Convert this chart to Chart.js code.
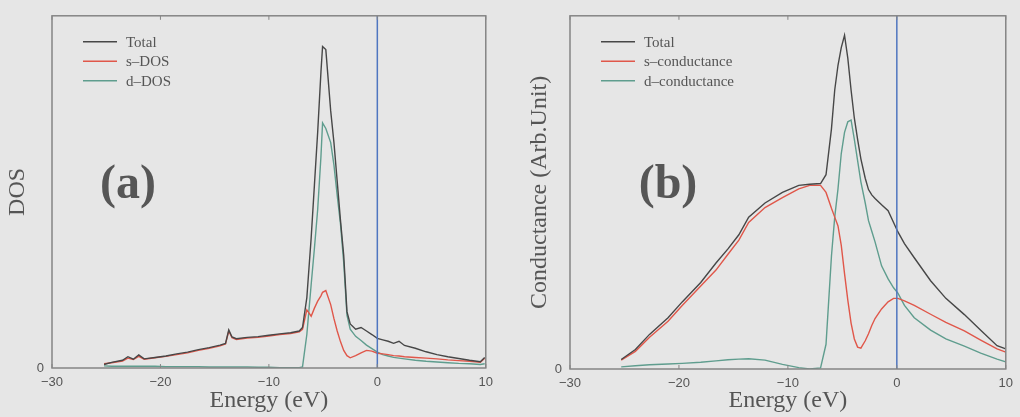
<!DOCTYPE html>
<html>
<head>
<meta charset="utf-8">
<script src="https://cdn.jsdelivr.net/npm/chart.js@4.4.1/dist/chart.umd.min.js"></script>
<style>
body{margin:0;background:#e6e6e6;}
.panel{position:absolute;top:0;height:417px;}
#wrapA{left:0;width:500px;}
#wrapB{left:500px;width:520px;}
</style>
</head>
<body>
<div class="panel" id="wrapA"><canvas id="cA"></canvas></div>
<div class="panel" id="wrapB"><canvas id="cB"></canvas></div>
<script>
// panel (a) - density of states, values in % of plot height
const energyA = [-25.2,-24.5,-23.5,-23.0,-22.5,-22.0,-21.5,-20.5,-19.5,-18.5,-17.5,-16.5,-15.5,-14.5,-14.0,-13.7,-13.4,-13.0,-12.0,-11.0,-10.0,-9.0,-8.0,-7.2,-6.9,-6.5,-6.1,-5.8,-5.5,-5.2,-5.05,-4.75,-4.3,-4.0,-3.7,-3.4,-3.1,-2.8,-2.5,-2.0,-1.5,-1.0,-0.5,0,0.5,1.0,1.5,2.0,2.5,3.5,4.5,5.5,6.5,7.5,8.5,9.5,9.9];
const totalA  = [1.0,1.6,2.2,3.2,2.5,3.7,2.6,3.0,3.4,4.0,4.5,5.2,5.8,6.5,7.0,10.8,8.8,8.3,8.7,8.9,9.3,9.7,10.0,10.5,11.5,20,37,52,67,84,91.3,90.4,73,64,53,42,32,16,12.5,11,11.5,10.5,9.5,8.4,8.0,7.6,7.0,7.6,6.4,5.6,4.6,3.8,3.2,2.7,2.2,1.8,3.0];
const sDosA   = [1.2,1.5,2.0,2.8,2.4,3.3,2.5,2.9,3.3,3.8,4.3,5.0,5.6,6.3,6.8,10.5,8.6,8.1,8.5,8.7,9.1,9.5,9.8,10.3,11.0,16.5,14.7,17,19,20.5,21.5,22,18,14,10.5,7.5,5,3.5,2.9,3.5,4.3,5.0,4.8,4.2,4.0,3.8,3.5,3.4,3.2,3.0,2.8,2.6,2.3,2.1,1.9,1.6,2.8];
const dDosA   = [0.6,0.5,0.5,0.5,0.5,0.5,0.5,0.5,0.4,0.4,0.4,0.4,0.3,0.3,0.3,0.3,0.3,0.3,0.3,0.2,0.2,0.1,0.1,0.1,0.3,9.5,23.7,34,45,60,69.6,68,64,57.6,49,41,30,15,11,9,7.8,6.5,5.5,4.5,3.8,3.4,3.0,2.8,2.6,2.2,1.9,1.7,1.5,1.3,1.2,1.0,1.2];

// panel (b) - conductance
const energyB = [-25.3,-24,-22.7,-21,-19.7,-18,-16.6,-15.5,-14.5,-13.6,-12.1,-10.5,-9.0,-8.0,-7.0,-6.5,-6.0,-5.7,-5.4,-5.1,-4.8,-4.5,-4.2,-3.9,-3.6,-3.3,-2.9,-2.6,-2.3,-2.0,-1.4,-0.8,-0.3,0.1,0.7,1.6,3.1,4.5,6.2,7.7,9.2,10];
const totalB  = [2.7,5.5,9.8,14.5,19,24.5,30,34,38,43,47,50,52,52.3,52.5,55,68,79,86,91,94.5,88,79,71,65,59.5,54,50.8,49.3,48.3,46.5,44.8,41.5,38.8,35.5,31.5,25,20,15.4,11,6.6,5.7];
const sCondB  = [2.5,5.0,9.0,13.5,18,23.5,28,32.5,36.5,41.5,45.7,48.5,51,52,52,50,45.5,43,40.5,35,27,19.5,13,8.5,6.2,5.9,8,10,12.3,14.3,17,19,20,20,19.3,18,15.5,13.2,10.8,8.2,5.7,4.8];
const dCondB  = [0.6,0.9,1.2,1.4,1.6,1.9,2.3,2.6,2.8,2.9,2.5,1.3,0.4,0,0.3,7,32,43,51,61,67,70,70.5,65,59,53,47,42,39,36,29.2,25.5,23,21.5,18,14.5,11,8.5,6.5,4.5,2.8,2.0];

const xTicks = [-30, -20, -10, 0, 10];
const yTicks = [0];
const fermiEnergy = 0;
const yMax = 100;

const labelsA = ['Total', 's\u2013DOS', 'd\u2013DOS'];
const labelsB = ['Total', 's\u2013conductance', 'd\u2013conductance'];
const colors = ['#474747', '#e0574a', '#5f9d8e'];
const ink = '#555';

function toPoints(xs, ys) {
    return xs.map((x, i) => ({x: x, y: ys[i]}));
}

// frame, inner ticks, legend and panel tag
const decorPlugin = {
    id: 'decor',
    afterDraw(chart, args, opts) {
        const ctx = chart.ctx, a = chart.chartArea, xs = chart.scales.x;
        ctx.save();
        ctx.strokeStyle = '#858585';
        ctx.lineWidth = 1.5;
        ctx.strokeRect(a.left, a.top, a.right - a.left, a.bottom - a.top);
        ctx.lineWidth = 1;
        for (let v of xTicks) {
            let px = xs.getPixelForValue(v);
            ctx.beginPath();
            ctx.moveTo(px, a.top); ctx.lineTo(px, a.top + 4);
            ctx.moveTo(px, a.bottom); ctx.lineTo(px, a.bottom - 4);
            ctx.stroke();
        }
        // legend
        ctx.font = '15px "Liberation Serif"';
        ctx.textBaseline = 'middle';
        ctx.textAlign = 'left';
        opts.labels.forEach((t, i) => {
            let y = a.top + 26 + i * 19.5;
            ctx.strokeStyle = colors[i];
            ctx.lineWidth = 1.5;
            ctx.beginPath();
            ctx.moveTo(a.left + 31, y); ctx.lineTo(a.left + 65, y);
            ctx.stroke();
            ctx.fillStyle = ink;
            ctx.fillText(t, a.left + 74, y + 1);
        });
        // panel tag
        ctx.font = 'bold 48px "Liberation Serif"';
        ctx.textAlign = 'center';
        ctx.fillStyle = '#565656';
        ctx.fillText(opts.tag, a.left + opts.tagX, opts.tagY);
        ctx.restore();
    }
};

function makePanel(id, energy, series, labels, o) {
    const datasets = series.map((vals, i) => ({
        label: labels[i],
        data: toPoints(energy, vals),
        borderColor: colors[i],
        borderWidth: 1.4,
        pointRadius: 0,
        tension: 0,
        order: i + 1,
    }));
    datasets.push({
        label: 'E_F',
        data: [{x: fermiEnergy, y: 0}, {x: fermiEnergy, y: yMax}],
        borderColor: '#4f76c0',
        borderWidth: 1.5,
        pointRadius: 0,
        order: 0,
    });

    return new Chart(document.getElementById(id), {
        type: 'line',
        data: {datasets: datasets},
        plugins: [decorPlugin],
        options: {
            responsive: true,
            maintainAspectRatio: false,
            animation: false,
            layout: {padding: {top: 7, right: o.right, left: 0, bottom: 0}},
            plugins: {
                legend: {display: false},
                tooltip: {enabled: false},
                decor: {labels: labels, tag: o.tag, tagX: o.tagX, tagY: 186},
            },
            scales: {
                x: {
                    type: 'linear',
                    min: -30, max: 10,
                    afterBuildTicks: s => { s.ticks = xTicks.map(v => ({value: v})); },
                    afterFit: s => { s.height = o.xHeight; },
                    ticks: {
                        callback: v => String(v).replace('-', '\u2212'),
                        font: {family: 'Liberation Sans', size: 13},
                        color: ink, padding: 7, maxRotation: 0, autoSkip: false,
                    },
                    grid: {display: false, drawTicks: false},
                    border: {display: false},
                    title: {
                        display: true, text: 'Energy (eV)', color: ink,
                        font: {family: 'Liberation Serif', size: 24},
                        padding: {top: 0, bottom: 2},
                    },
                },
                y: {
                    min: 0, max: yMax,
                    afterBuildTicks: s => { s.ticks = yTicks.map(v => ({value: v})); },
                    afterFit: s => { s.width = o.yWidth; },
                    ticks: {
                        font: {family: 'Liberation Sans', size: 13},
                        color: ink, padding: 8,
                    },
                    grid: {display: false, drawTicks: false},
                    border: {display: false},
                    title: {
                        display: true, text: o.yTitle, color: ink,
                        font: {family: 'Liberation Serif', size: 24},
                        padding: {top: o.yTitlePad, bottom: 0},
                    },
                },
            },
        },
    });
}

makePanel('cA', energyA, [totalA, sDosA, dDosA], labelsA,
    {right: 13, xHeight: 49, yWidth: 52, yTitle: 'DOS', yTitlePad: 3, tag: '(a)', tagX: 76});
makePanel('cB', energyB, [totalB, sCondB, dCondB], labelsB,
    {right: 12, xHeight: 48, yWidth: 70, yTitle: 'Conductance (Arb.Unit)', yTitlePad: 25, tag: '(b)', tagX: 98});
</script>
</body>
</html>
